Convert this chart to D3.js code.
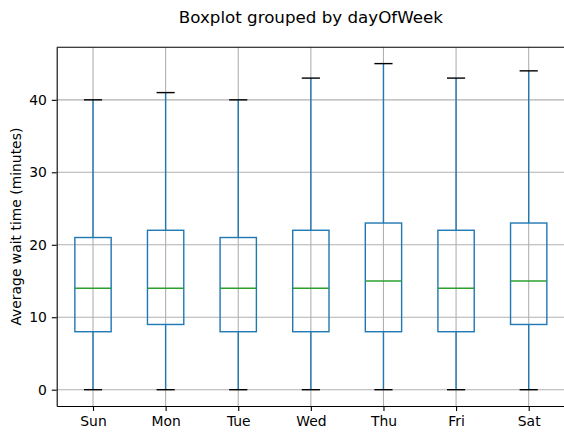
<!DOCTYPE html>
<html><head><meta charset="utf-8">
<script src="https://cdn.jsdelivr.net/npm/d3@7"></script>
<style>body{margin:0;background:#fff}svg{display:block}text{font-family:"DejaVu Sans",sans-serif;fill:#000}</style>
</head><body>
<script>
const days = ["Sun","Mon","Tue","Wed","Thu","Fri","Sat"];
const whiskerLow = [0,0,0,0,0,0,0];
const q1 = [8,9,8,8,8,8,9];
const median = [14,14,14,14,15,14,15];
const q3 = [21,22,21,22,23,22,23];
const whiskerHigh = [40,41,40,43,45,43,44];
const yTicks = [0,10,20,30,40];

const W=564,H=432;
const svg=d3.select("body").append("svg").attr("width",W).attr("height",H);
const L=56.7,R=565,T=47.3,B=406;
const x=d3.scaleLinear().domain([0.5,7.5]).range([L,R]);
const y=d3.scaleLinear().domain([-2.25,47.25]).range([B,T]);

// grid
const g=svg.append("g");
g.selectAll(".gx").data(days).enter().append("line")
 .attr("x1",(d,i)=>x(i+1)).attr("x2",(d,i)=>x(i+1)).attr("y1",T).attr("y2",B)
 .attr("stroke","#b0b0b0").attr("stroke-width",1.1);
g.selectAll(".gy").data(yTicks).enter().append("line")
 .attr("x1",L).attr("x2",R).attr("y1",d=>y(d)).attr("y2",d=>y(d))
 .attr("stroke","#b0b0b0").attr("stroke-width",1.1);

const bw=0.25, cw=0.125;
const data=days.map((d,i)=>({d,i,lo:whiskerLow[i],q1:q1[i],m:median[i],q3:q3[i],hi:whiskerHigh[i]}));
const bx=svg.append("g").selectAll("g").data(data).enter().append("g");
bx.append("line").attr("x1",d=>x(d.i+1)).attr("x2",d=>x(d.i+1)).attr("y1",d=>y(d.lo)).attr("y2",d=>y(d.q1)).attr("stroke","#1f77b4").attr("stroke-width",1.4);
bx.append("line").attr("x1",d=>x(d.i+1)).attr("x2",d=>x(d.i+1)).attr("y1",d=>y(d.q3)).attr("y2",d=>y(d.hi)).attr("stroke","#1f77b4").attr("stroke-width",1.4);
bx.append("rect").attr("x",d=>x(d.i+1-bw)).attr("width",d=>x(d.i+1+bw)-x(d.i+1-bw))
 .attr("y",d=>y(d.q3)).attr("height",d=>y(d.q1)-y(d.q3)).attr("fill","none").attr("stroke","#1f77b4").attr("stroke-width",1.4);
bx.append("line").attr("x1",d=>x(d.i+1-bw)).attr("x2",d=>x(d.i+1+bw)).attr("y1",d=>y(d.m)).attr("y2",d=>y(d.m)).attr("stroke","#2ca02c").attr("stroke-width",1.4);
["lo","hi"].forEach(k=>{
 bx.append("line").attr("x1",d=>x(d.i+1-cw)).attr("x2",d=>x(d.i+1+cw)).attr("y1",d=>y(d[k])).attr("y2",d=>y(d[k])).attr("stroke","#000").attr("stroke-width",1.4);
});

// axes
const xa=svg.append("g").attr("transform",`translate(0,${B})`)
 .call(d3.axisBottom(x).tickValues(d3.range(1,8)).tickFormat(v=>days[v-1]).tickSize(4.9).tickPadding(4.9).tickSizeOuter(0));
const ya=svg.append("g").attr("transform",`translate(${L},0)`)
 .call(d3.axisLeft(y).tickValues(yTicks).tickSize(4.9).tickPadding(4.9).tickSizeOuter(0));
[xa,ya].forEach(a=>{a.selectAll("text").attr("font-size",13.9).attr("font-family","DejaVu Sans").attr("fill","#000");
 a.selectAll("line").attr("stroke","#000").attr("stroke-width",1.1);
 a.select(".domain").attr("stroke","#000").attr("stroke-width",1.1);});
// top spine
svg.append("line").attr("x1",L).attr("x2",R).attr("y1",T).attr("y2",T).attr("stroke","#000").attr("stroke-width",1.1);
svg.append("line").attr("x1",R).attr("x2",R).attr("y1",T).attr("y2",B).attr("stroke","#000").attr("stroke-width",1.1);

svg.append("text").attr("x",(L+R)/2).attr("y",23).attr("text-anchor","middle").attr("font-size",16.7).text("Boxplot grouped by dayOfWeek");
svg.append("text").attr("transform",`translate(21,${(T+B)/2}) rotate(-90)`).attr("text-anchor","middle").attr("font-size",13.9).text("Average wait time (minutes)");
</script>
</body></html>
